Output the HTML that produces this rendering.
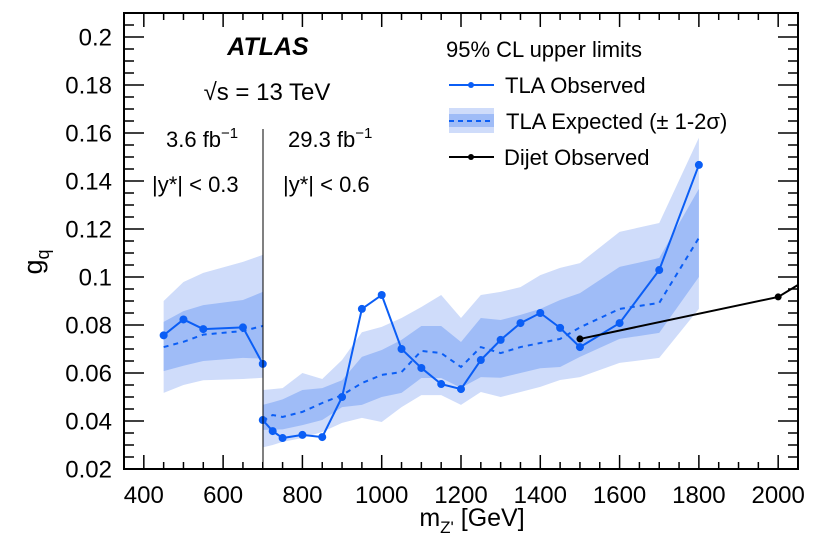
<!DOCTYPE html>
<html><head><meta charset="utf-8"><style>
body{margin:0;background:#fff;}
svg text{font-family:"Liberation Sans",Arial,sans-serif;fill:#000;}
</style></head><body>
<svg id="chart" width="813" height="541" viewBox="0 0 813 541" xmlns="http://www.w3.org/2000/svg">
<defs><clipPath id="plotclip"><rect x="124" y="13" width="674" height="456"/></clipPath></defs>
<g id="bands" clip-path="url(#plotclip)"></g>
<g id="lines" clip-path="url(#plotclip)"></g>
<g id="axes"></g>
<line x1="263" y1="129" x2="263" y2="469" stroke="#000" stroke-width="1"/>
<text x="268" y="55" text-anchor="middle" font-size="25" font-weight="bold" font-style="italic">ATLAS</text>
<text x="267" y="100" text-anchor="middle" font-size="24">√s = 13 TeV</text>
<text x="166" y="147" font-size="22">3.6 fb<tspan dy="-9" font-size="15">−1</tspan></text>
<text x="288" y="147" font-size="22">29.3 fb<tspan dy="-9" font-size="15">−1</tspan></text>
<text x="152" y="192" font-size="22">|y*| &lt; 0.3</text>
<text x="283" y="192" font-size="22">|y*| &lt; 0.6</text>
<g>
<text x="446" y="57" font-size="22">95% CL upper limits</text>
<g>
<line x1="449" y1="85" x2="494" y2="85" stroke="#0b5ef5" stroke-width="2"/><circle cx="471" cy="85" r="3" fill="#0b5ef5"/>
<text x="505" y="93" font-size="22">TLA Observed</text></g>
<g>
<rect x="449" y="108" width="45" height="25" fill="#cfdcfa"/><rect x="449" y="114" width="45" height="13" fill="#9fbcf7"/>
<line x1="449" y1="121" x2="494" y2="121" stroke="#0b5ef5" stroke-width="2" stroke-dasharray="5,4"/>
<text x="506" y="129" font-size="22">TLA Expected (± 1-2σ)</text></g>
<g>
<line x1="449" y1="157" x2="494" y2="157" stroke="#000" stroke-width="2"/><circle cx="471" cy="157" r="3" fill="#000"/>
<text x="504" y="165" font-size="22">Dijet Observed</text></g>
</g>
<text x="472" y="526" text-anchor="middle" font-size="25">m<tspan dy="7" font-size="17">Z'</tspan><tspan dy="-7"> [GeV]</tspan></text>
<text transform="translate(42,262) rotate(-90)" text-anchor="middle" font-size="27">g<tspan dy="7" font-size="18">q</tspan></text>
</svg>
<script>
// ---- data ----
const massLeft = [450, 500, 550, 650, 700];
const obsLeft = [0.0757, 0.0823, 0.0783, 0.0790, 0.0638];
const expLeft = [0.0708, 0.0730, 0.0760, 0.0775, 0.0796];
const lo1Left = [0.0608, 0.0630, 0.0650, 0.0663, 0.0660];
const hi1Left = [0.0813, 0.0858, 0.0883, 0.0904, 0.0938];
const lo2Left = [0.0517, 0.0550, 0.0570, 0.0575, 0.0580];
const hi2Left = [0.0900, 0.0979, 0.1017, 0.1063, 0.1092];

const massRight = [700, 725, 750, 800, 850, 900, 950, 1000, 1050, 1100, 1150, 1200, 1250, 1300, 1350, 1400, 1450, 1500, 1600, 1700, 1800];
const obsRight = [0.0404, 0.0358, 0.0329, 0.0342, 0.0333, 0.0500, 0.0867, 0.0925, 0.0700, 0.0621, 0.0554, 0.0533, 0.0654, 0.0738, 0.0808, 0.0850, 0.0788, 0.0708, 0.0808, 0.1029, 0.1467];
const expRight = [0.0400, 0.0425, 0.0417, 0.0438, 0.0475, 0.0508, 0.0558, 0.0592, 0.0604, 0.0692, 0.0683, 0.0625, 0.0708, 0.0683, 0.0708, 0.0725, 0.0742, 0.0790, 0.0867, 0.0892, 0.1163];
const lo1Right = [0.0363, 0.0364, 0.0365, 0.0383, 0.0404, 0.0458, 0.0467, 0.0500, 0.0517, 0.0579, 0.0579, 0.0538, 0.0583, 0.0580, 0.0600, 0.0620, 0.0625, 0.0667, 0.0742, 0.0767, 0.1000];
const hi1Right = [0.0467, 0.0478, 0.0490, 0.0529, 0.0537, 0.0570, 0.0667, 0.0696, 0.0738, 0.0796, 0.0796, 0.0729, 0.0829, 0.0821, 0.0842, 0.0867, 0.0904, 0.0933, 0.1042, 0.1079, 0.1367];
const lo2Right = [0.0290, 0.0300, 0.0313, 0.0329, 0.0354, 0.0392, 0.0413, 0.0396, 0.0458, 0.0508, 0.0508, 0.0467, 0.0521, 0.0500, 0.0521, 0.0542, 0.0571, 0.0583, 0.0642, 0.0663, 0.0867];
const hi2Right = [0.0529, 0.0533, 0.0537, 0.0600, 0.0575, 0.0654, 0.0770, 0.0792, 0.0829, 0.0875, 0.0925, 0.0829, 0.0925, 0.0938, 0.0958, 0.1008, 0.1038, 0.1058, 0.1188, 0.1225, 0.1580];

const massDijet = [1500, 2000, 2100];
const obsDijet = [0.0742, 0.0917, 0.1017];

const xTickLabels = [400, 600, 800, 1000, 1200, 1400, 1600, 1800, 2000];
const yTickLabels = ["0.02", "0.04", "0.06", "0.08", "0.1", "0.12", "0.14", "0.16", "0.18", "0.2"];

// ---- axes ----
const X0 = 124, X1 = 798, Y0 = 469, Y1 = 13;
const xMin = 350, xMax = 2050, yMin = 0.02, yMax = 0.21;
const sx = v => X0 + (v - xMin) / (xMax - xMin) * (X1 - X0);
const sy = v => Y0 - (v - yMin) / (yMax - yMin) * (Y0 - Y1);
const NS = "http://www.w3.org/2000/svg";
function mk(tag, attrs, parent) {
  const e = document.createElementNS(NS, tag);
  for (const k in attrs) e.setAttribute(k, attrs[k]);
  parent.appendChild(e);
  return e;
}
const bands = document.getElementById('bands');
const lines = document.getElementById('lines');
const axes = document.getElementById('axes');

function band(xs, lo, hi, fill, name) {
  let d = xs.map((x, i) => (i ? 'L' : 'M') + sx(x) + ',' + sy(hi[i])).join('');
  for (let i = xs.length - 1; i >= 0; i--) d += 'L' + sx(xs[i]) + ',' + sy(lo[i]);
  const p = mk('path', {d: d + 'Z', fill: fill}, bands);
  
  
}
band(massLeft, lo2Left, hi2Left, '#cfdcfa', 'band-2sigma-left');
band(massLeft, lo1Left, hi1Left, '#9fbcf7', 'band-1sigma-left');
band(massRight, lo2Right, hi2Right, '#cfdcfa', 'band-2sigma-right');
band(massRight, lo1Right, hi1Right, '#9fbcf7', 'band-1sigma-right');

function line(xs, ys, color, dash, markers, name) {
  const pts = xs.map((x, i) => sx(x) + ',' + sy(ys[i])).join(' ');
  const pl = mk('polyline', {points: pts, fill: 'none', stroke: color, 'stroke-width': 2, 'stroke-dasharray': dash || 'none'}, lines);
  
  
  if (markers) xs.forEach((x, i) => {
    const c = mk('circle', {cx: sx(x), cy: sy(ys[i]), r: 4, fill: color}, lines);
    
    
  });
}
line(massLeft, expLeft, '#0b5ef5', '5,5', false, 'expected-line-left');
line(massRight, expRight, '#0b5ef5', '5,5', false, 'expected-line-right');
line(massLeft, obsLeft, '#0b5ef5', null, true, 'observed-line-left');
line(massRight, obsRight, '#0b5ef5', null, true, 'observed-line-right');
line(massDijet, obsDijet, '#000', null, false, 'dijet-line');
massDijet.forEach((x, i) => {
  if (x > xMax) return;
  const c = mk('circle', {cx: sx(x), cy: sy(obsDijet[i]), r: 3.5, fill: '#000'}, lines);
  
  
});

// frame
const fr = mk('rect', {x: X0, y: Y1, width: X1 - X0, height: Y0 - Y1, fill: 'none', stroke: '#000', 'stroke-width': 2}, axes);


// x ticks
for (let v = 350; v <= 2050; v += 50) {
  const major = v % 200 === 0;
  const L = major ? 14 : 7;
  mk('line', {x1: sx(v), y1: Y0, x2: sx(v), y2: Y0 - L, stroke: '#000', 'stroke-width': 1.5}, axes);
  mk('line', {x1: sx(v), y1: Y1, x2: sx(v), y2: Y1 + L, stroke: '#000', 'stroke-width': 1.5}, axes);
}
xTickLabels.forEach(v => {
  const t = mk('text', {x: sx(v), y: 503, 'text-anchor': 'middle', 'font-size': 24}, axes);
  t.textContent = v;
  
  
});
// y ticks
for (let k = 0; k <= 38; k++) {
  const v = 0.02 + k * 0.005;
  const major = k % 4 === 0;
  const L = major ? 20 : 10;
  mk('line', {x1: X0, y1: sy(v), x2: X0 + L, y2: sy(v), stroke: '#000', 'stroke-width': 1.5}, axes);
  mk('line', {x1: X1, y1: sy(v), x2: X1 - L, y2: sy(v), stroke: '#000', 'stroke-width': 1.5}, axes);
}
yTickLabels.forEach(s => {
  const t = mk('text', {x: 112, y: sy(parseFloat(s)) + 8.5, 'text-anchor': 'end', 'font-size': 24}, axes);
  t.textContent = s;
  
  
});
</script>
</body></html>
